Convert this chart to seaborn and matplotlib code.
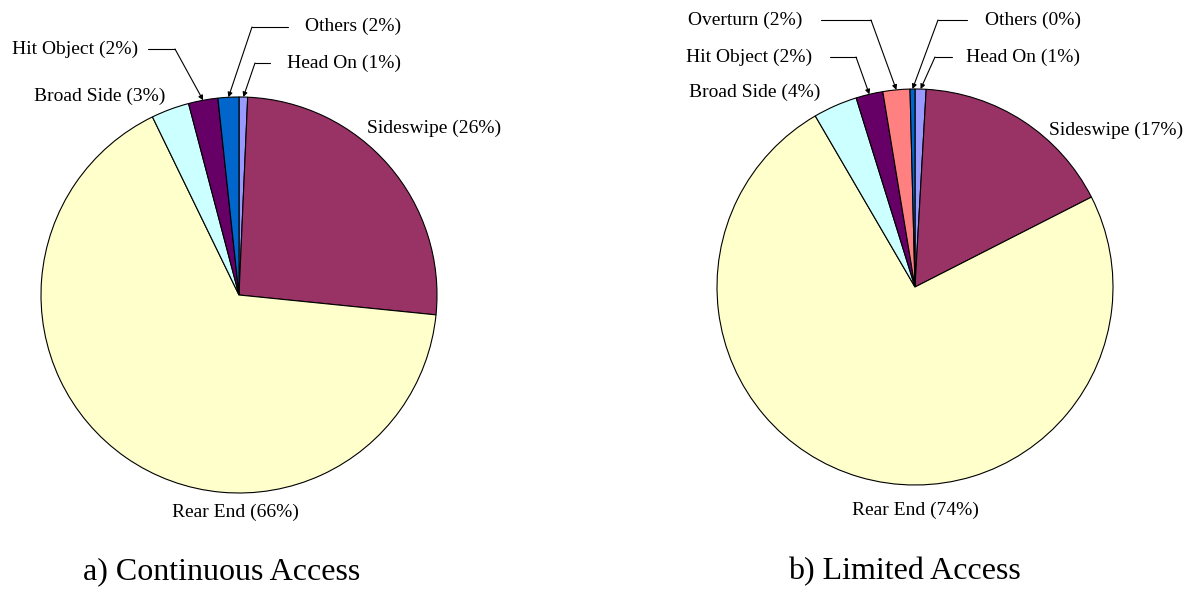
import numpy as np
import matplotlib
matplotlib.use('Agg')
import matplotlib.pyplot as plt
import seaborn as sns

# shares (%), clockwise from 12 o'clock
cont_labels = ["Head On", "Sideswipe", "Rear End", "Broad Side", "Hit Object", "Others"]
cont_values = [0.7, 25.9, 66.2, 3.1, 2.4, 1.7]
cont_pct = [1, 26, 66, 3, 2, 2]

lim_labels = ["Head On", "Sideswipe", "Rear End", "Broad Side", "Hit Object", "Overturn", "Others"]
lim_values = [0.9, 16.6, 74.1, 3.6, 2.2, 2.2, 0.4]
lim_pct = [1, 17, 74, 4, 2, 2, 0]

colors = {
    "Head On": "#9999FF",
    "Sideswipe": "#993366",
    "Rear End": "#FFFFCC",
    "Broad Side": "#CCFFFF",
    "Hit Object": "#660066",
    "Others": "#0066CC",
    "Overturn": "#FF8080",
}

W, H = 1196, 589
LABEL_FS = 14
CAPTION_FS = 23


def make_pie(fig, cx, cy, r, labels, values, pct, layout, caption, cap_x):
    ax = fig.add_axes([(cx - r) / W, (H - cy - r) / H, 2 * r / W, 2 * r / H])
    wedges, _ = ax.pie(values, colors=[colors[l] for l in labels],
                       startangle=90, counterclock=False, radius=1,
                       wedgeprops=dict(edgecolor="black", linewidth=0.8))
    ax.set_xlim(-1, 1)
    ax.set_ylim(-1, 1)
    ax.axis("off")

    def px(x, y):
        return (x - cx) / r, (cy - y) / r

    for lab, p, w in zip(labels, pct, wedges):
        spec = layout[lab]
        tx, ty = px(*spec["text"])
        ax.text(tx, ty, "%s (%d%%)" % (lab, p), ha=spec["ha"], va="center",
                fontsize=LABEL_FS, color="black", clip_on=False)
        if "line" in spec:
            mid = np.deg2rad((w.theta1 + w.theta2) / 2)
            target = (np.cos(mid), np.sin(mid))
            x0, y0 = px(*spec["line"][0])
            x1, y1 = px(*spec["line"][1])
            ax.plot([x0, x1], [y0, y1], color="black", lw=0.8, clip_on=False)
            ax.annotate("", xy=target, xytext=(x1, y1),
                        arrowprops=dict(arrowstyle="-|>", color="black", lw=0.8,
                                        mutation_scale=7, shrinkA=0, shrinkB=0),
                        annotation_clip=False)

    fig.text(cap_x / W, 1 - 572 / H, caption, ha="center", va="center",
             fontsize=CAPTION_FS, color="black")
    return ax


def main():
    sns.set_theme(style="white")
    plt.rcParams["font.family"] = ["Liberation Serif", "DejaVu Serif"]
    plt.rcParams["text.color"] = "black"

    fig = plt.figure(figsize=(11.96, 5.89), dpi=100)
    fig.patch.set_facecolor("white")

    layout_a = {
        "Head On": dict(text=(287, 63), ha="left", line=((270, 63), (255, 63))),
        "Sideswipe": dict(text=(367, 128), ha="left"),
        "Rear End": dict(text=(235, 512), ha="center"),
        "Broad Side": dict(text=(165, 96), ha="right"),
        "Hit Object": dict(text=(138, 49), ha="right", line=((148, 49), (175, 49))),
        "Others": dict(text=(305, 26), ha="left", line=((288, 27), (252, 27))),
    }
    layout_b = {
        "Head On": dict(text=(966, 57), ha="left", line=((952, 57), (935, 57))),
        "Sideswipe": dict(text=(1049, 130), ha="left"),
        "Rear End": dict(text=(915, 510), ha="center"),
        "Broad Side": dict(text=(820, 92), ha="right"),
        "Hit Object": dict(text=(812, 57), ha="right", line=((830, 57), (856, 57))),
        "Overturn": dict(text=(802, 20), ha="right", line=((821, 20), (871, 20))),
        "Others": dict(text=(985, 20), ha="left", line=((967, 20), (938, 20))),
    }

    make_pie(fig, 239, 295, 198, cont_labels, cont_values, cont_pct, layout_a,
             "a) Continuous Access", 222)
    make_pie(fig, 915, 287, 198, lim_labels, lim_values, lim_pct, layout_b,
             "b) Limited Access", 904)

    plt.savefig("out.png", dpi=100, facecolor="white")


if __name__ == "__main__":
    main()
